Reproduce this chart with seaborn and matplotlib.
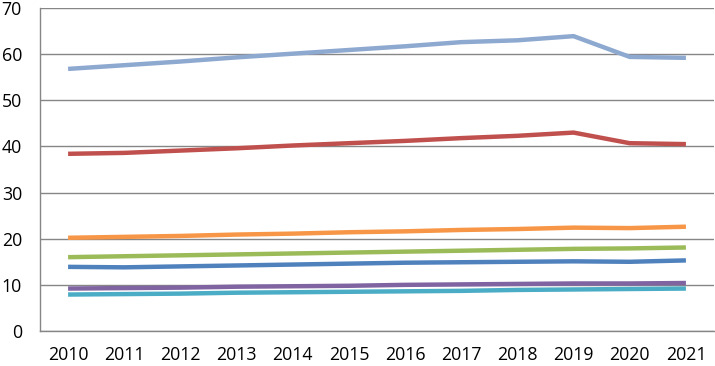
import matplotlib

matplotlib.use("Agg")
import matplotlib.pyplot as plt
import numpy as np
import pandas as pd
import seaborn as sns

YEARS = [2010, 2011, 2012, 2013, 2014, 2015, 2016, 2017, 2018, 2019, 2020, 2021]

S_TOP = [56.8, 57.6, 58.4, 59.3, 60.1, 60.9, 61.7, 62.6, 63.0, 63.9, 59.4, 59.2]
S_RED = [38.4, 38.6, 39.1, 39.6, 40.2, 40.7, 41.2, 41.8, 42.3, 43.0, 40.7, 40.5]
S_ORANGE = [20.2, 20.4, 20.6, 20.9, 21.1, 21.4, 21.6, 21.9, 22.1, 22.4, 22.3, 22.6]
S_GREEN = [16.0, 16.2, 16.4, 16.6, 16.8, 17.0, 17.2, 17.4, 17.6, 17.8, 17.9, 18.1]
S_BLUE = [13.9, 13.8, 14.0, 14.2, 14.4, 14.6, 14.8, 14.9, 15.0, 15.1, 15.0, 15.3]
S_PURPLE = [9.2, 9.3, 9.4, 9.6, 9.7, 9.8, 10.0, 10.1, 10.2, 10.3, 10.3, 10.4]
S_TEAL = [7.9, 8.0, 8.1, 8.3, 8.4, 8.5, 8.6, 8.7, 8.9, 9.0, 9.1, 9.2]

SERIES = {
    "blue": S_BLUE,
    "red": S_RED,
    "green": S_GREEN,
    "purple": S_PURPLE,
    "teal": S_TEAL,
    "orange": S_ORANGE,
    "top": S_TOP,
}
COLORS = {
    "blue": "#4F81BD",
    "red": "#C0504D",
    "green": "#9BBB59",
    "purple": "#8064A2",
    "teal": "#4BACC6",
    "orange": "#F79646",
    "top": "#8EA9D0",
}

rows = []
for name, vals in SERIES.items():
    for i, v in enumerate(vals):
        rows.append({"series": name, "pos": i, "value": v})
df = pd.DataFrame(rows)

sns.set_style("white")
plt.rcParams["font.family"] = ["Open Sans", "DejaVu Sans"]

fig = plt.figure(figsize=(7.15, 3.66), dpi=100)
ax = fig.add_axes([40 / 715, 1 - 331 / 366, 674 / 715, 323 / 366])

sns.lineplot(data=df, x="pos", y="value", hue="series", palette=COLORS,
             linewidth=3.2, legend=False, ax=ax, solid_capstyle="butt")

ax.set_xlim(-0.5, len(YEARS) - 0.5)
ax.set_ylim(0, 70)
ax.set_yticks(np.arange(0, 71, 10))
ax.set_xticks(range(len(YEARS)))
ax.set_xticklabels([str(y) for y in YEARS])
ax.set_xticks(np.arange(-0.5, len(YEARS), 1), minor=True)
ax.tick_params(axis="x", which="major", length=0, pad=11, labelsize=12.8, labelcolor="black")
ax.tick_params(axis="x", which="minor", length=5, color="#868686", direction="out")
ax.tick_params(axis="y", length=5, color="#868686", direction="out", labelsize=12.8,
               pad=8, labelcolor="black")
ax.set_xlabel("")
ax.set_ylabel("")
ax.yaxis.grid(True, color="#868686", linewidth=1)
ax.set_axisbelow(True)
for side in ["top", "right"]:
    ax.spines[side].set_visible(False)
for side in ["left", "bottom"]:
    ax.spines[side].set_color("#868686")
    ax.spines[side].set_linewidth(1)

fig.savefig("out.png", dpi=100)
